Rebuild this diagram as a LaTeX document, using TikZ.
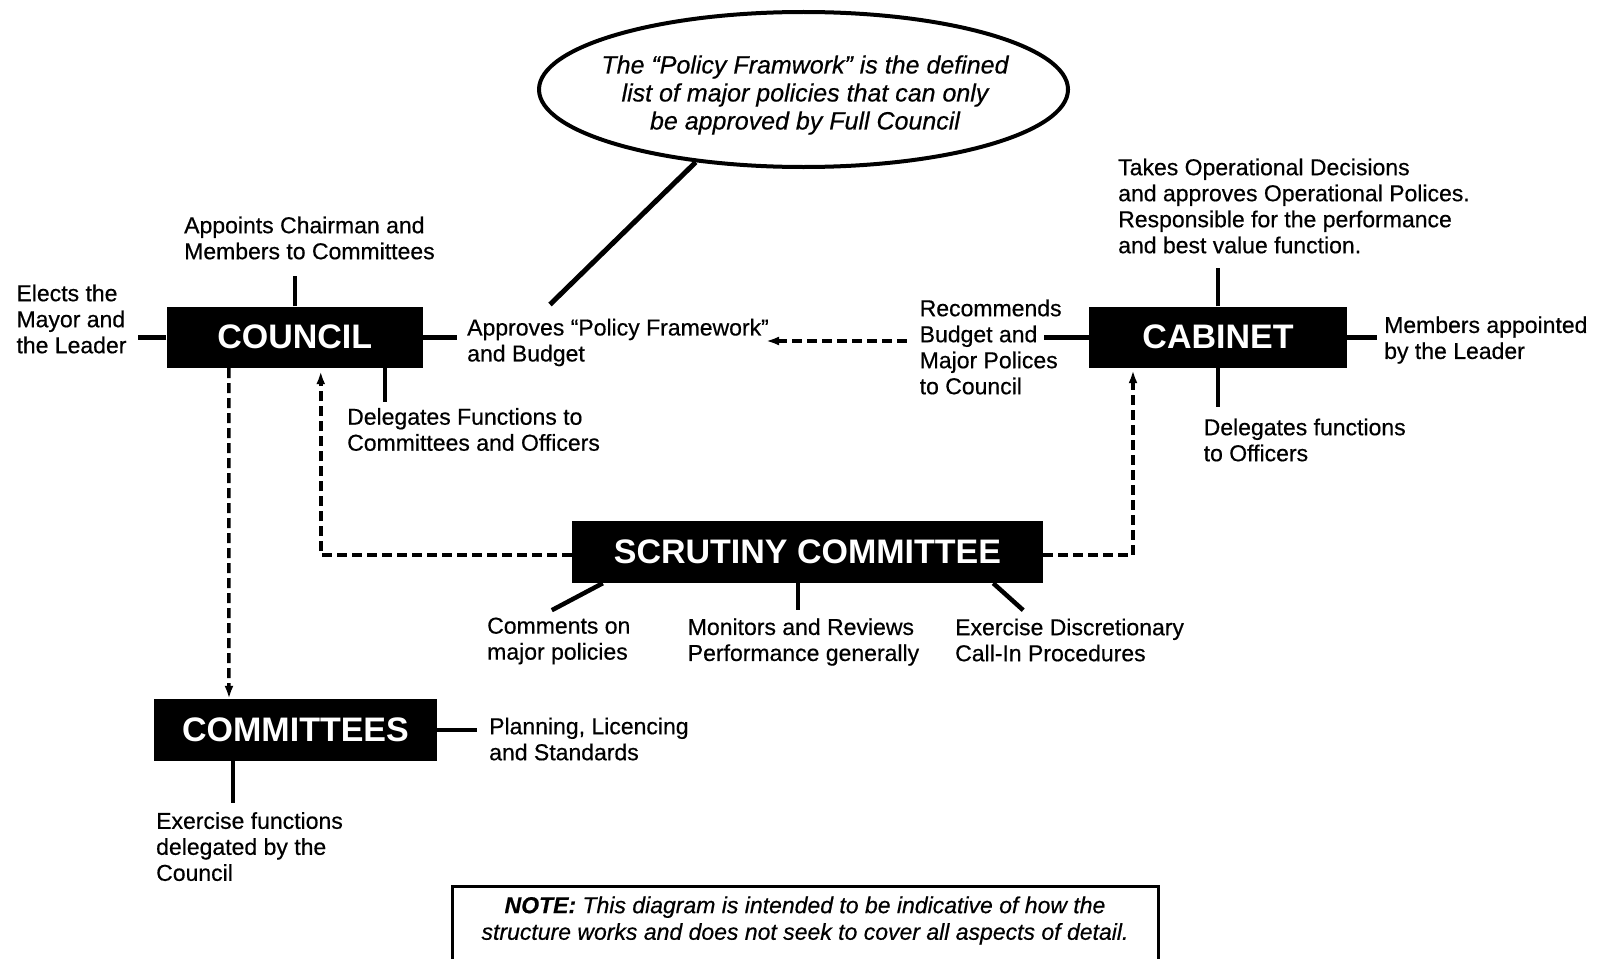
\documentclass[tikz,border=0pt]{standalone}
\usepackage{fontspec}
\setmainfont{Liberation Sans}
\newfontfamily\lblfont{Liberation Sans}[FakeBold=0.5]
\newfontfamily\lblitfont{Liberation Sans Italic}[FakeBold=0.5]
\usetikzlibrary{arrows.meta,shapes.geometric,calc}
\begin{document}
\begin{tikzpicture}[x=1pt,y=-1pt,
  box/.style={fill=black, text=white, inner sep=0pt, font=\fontsize{34}{38}\selectfont\bfseries},
  lbl/.style={anchor=west, inner sep=0pt, align=left, font=\lblfont\fontsize{23}{26}\selectfont, text=black},
  con/.style={line width=4.5pt},
  dsh/.style={line width=3.5pt, dash pattern=on 10pt off 5pt},
  arr/.style={-{Latex[length=13pt,width=9pt]}}
]
\useasboundingbox (0,0) rectangle (1602,958);
\fill[white] (0,0) rectangle (1602,958);

% main boxes
\node[box, minimum width=256.5pt, minimum height=61.5pt] (council) at (294.75,337.25) {COUNCIL};
\node[box, minimum width=258pt, minimum height=61.5pt] (cabinet) at (1218,337.25) {CABINET};
\node[box, minimum width=471pt, minimum height=62pt] (scrutiny) at (807.5,552) {SCRUTINY COMMITTEE};
\node[box, minimum width=283pt, minimum height=62pt] (committees) at (295.5,730) {COMMITTEES};

% speech bubble
\node[ellipse, draw, line width=4pt, minimum width=529pt, minimum height=155pt, inner sep=0pt] (bubble) at (803.5,89.5) {};
\node[inner sep=0pt, align=center, font=\lblitfont\fontsize{25}{28}\selectfont] (btext) at (805,95)
  {The “Policy Framwork” is the defined\\list of major policies that can only\\be approved by Full Council};

% labels
\node[lbl] (elect) at (16.3,319) {Elects the\\Mayor and\\the Leader};
\node[lbl] (appoint) at (184,238) {Appoints Chairman and\\Members to Committees};
\node[lbl] (approves) at (467,342.5) {Approves “Policy Framework”\\and Budget};
\node[lbl] (delegc) at (347,429.5) {Delegates Functions to\\Committees and Officers};
\node[lbl] (recommends) at (919.5,347) {Recommends\\Budget and\\Major Polices\\to Council};
\node[lbl] (takes) at (1118,206) {Takes Operational Decisions\\and approves Operational Polices.\\Responsible for the performance\\and best value function.};
\node[lbl] (members) at (1384,340) {Members appointed\\by the Leader};
\node[lbl] (delegcab) at (1203.5,440) {Delegates functions\\to Officers};
\node[lbl] (comments) at (487,641) {Comments on\\major policies};
\node[lbl] (monitors) at (687.6,642) {Monitors and Reviews\\Performance generally};
\node[lbl] (exercise) at (955,640) {Exercise Discretionary\\Call-In Procedures};
\node[lbl] (planning) at (489,739) {Planning, Licencing\\and Standards};
\node[lbl] (exfunc) at (156,846.6) {Exercise functions\\delegated by the\\Council};

% free ends
\coordinate (tailend) at (550,304.5);
\coordinate (apptip) at (766,341);

% solid connectors
\draw[con] (council.west) -- ++(-28.5,0);
\draw[con] (council.north) -- ++(0,-30.5);
\draw[con] (council.east) -- ++(34,0);
\draw[con] ($(council.south)+(90,0)$) -- ++(0,33.5);
\draw[con] (cabinet.north) -- ++(0,-38.5);
\draw[con] (cabinet.south) -- ++(0,38.5);
\draw[con] (cabinet.west) -- ++(-45,0);
\draw[con] (cabinet.east) -- ++(30,0);
\draw[con] (committees.east) -- ++(40,0);
\draw[con] ($(committees.south)+(-62.5,0)$) -- ++(0,42);
\draw[con] ($(scrutiny.south west)+(31,0)$) -- ++(-51,27);
\draw[con] ($(scrutiny.south)+(-9.5,0)$) -- ++(0,27);
\draw[con] ($(scrutiny.south east)+(-50,0)$) -- ++(30,27);
\draw[line width=5pt] (bubble.214) -- (tailend);

% dashed connectors
\draw[dsh,arr] ($(recommends.west)+(-13,-6)$) -- (apptip);
\draw[dsh,arr] ($(council.south)+(-66,0)$) -- ($(committees.north)+(-66.5,0)$);
\draw[dsh,arr] ($(scrutiny.west)+(0,3)$) -| ($(council.south)+(26,3)$);
\draw[dsh,arr] ($(scrutiny.east)+(0,3)$) -| ($(cabinet.south)+(-85,2)$);

% note
\node[draw, line width=3pt, minimum width=706pt, minimum height=120pt, anchor=north, inner sep=0pt] (notebox) at (805.6,884.5) {};
\node[inner sep=0pt, align=center, font=\lblitfont\fontsize{23}{26.6}\selectfont] (note) at (805,920.5)
  {\textbf{NOTE:} This diagram is intended to be indicative of how the\\structure works and does not seek to cover all aspects of detail.};
\end{tikzpicture}
\end{document}
